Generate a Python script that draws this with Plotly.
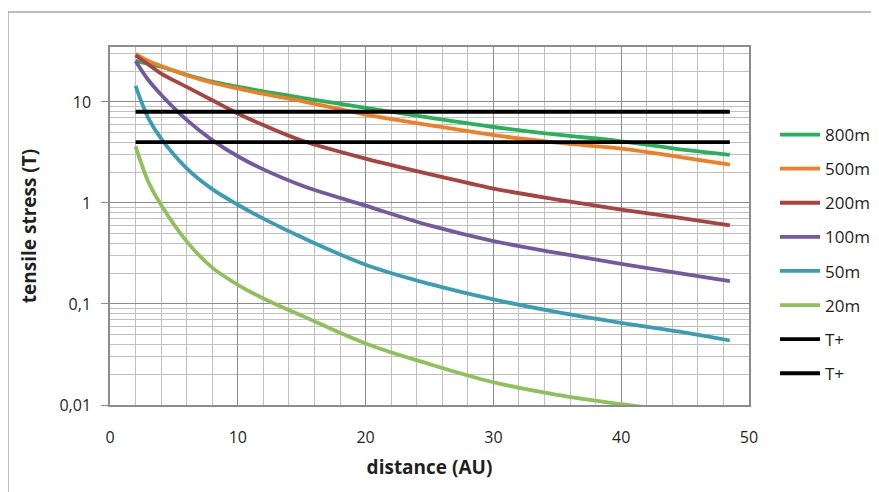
import plotly.graph_objects as go

# ---- data ----
distance = [2, 3, 4, 6, 8, 10, 12, 15, 20, 25, 30, 35, 40, 45, 48.5]

s800 = [25.5, 23.8, 22.3, 18.6, 15.9, 14.2, 12.7, 11.0, 8.75, 7.0, 5.65, 4.75, 4.08, 3.35, 3.0]
s500 = [30.0, 25.5, 22.7, 18.4, 15.5, 13.6, 12.0, 10.2, 7.5, 5.9, 4.7, 3.95, 3.45, 2.8, 2.4]
s200 = [29.0, 23.5, 19.1, 14.1, 10.4, 7.7, 5.9, 4.15, 2.75, 1.93, 1.39, 1.08, 0.86, 0.70, 0.60]
s100 = [25.5, 16.5, 11.8, 6.64, 4.19, 2.9, 2.15, 1.49, 0.94, 0.60, 0.42, 0.32, 0.25, 0.198, 0.168]
s50 = [14.4, 6.9, 4.33, 2.2, 1.37, 0.96, 0.70, 0.457, 0.245, 0.158, 0.111, 0.083, 0.065, 0.052, 0.0435]
s20 = [3.65, 1.62, 0.955, 0.417, 0.229, 0.155, 0.1135, 0.0767, 0.0407, 0.0254, 0.0168, 0.0126, 0.0102, 0.0085, 0.0076]

t_x = [2, 48.5]
t_upper = [8, 8]
t_lower = [4, 4]

series_names = ["800m", "500m", "200m", "100m", "50m", "20m"]
series_values = [s800, s500, s200, s100, s50, s20]
series_colors = ["#27b15b", "#f07e24", "#a8433f", "#7459a0", "#3a9db5", "#8fc15a"]

y_tickvals = [0.01, 0.1, 1, 10]
y_ticktext = ["0,01", "0,1", "1", "10"]
x_tickvals = [0, 10, 20, 30, 40, 50]

FONT = "Open Sans"
TEXT = "#1f1f1f"

fig = go.Figure()
for i, (name, vals, col) in enumerate(zip(series_names, series_values, series_colors)):
    fig.add_trace(go.Scatter(x=distance, y=vals, mode="lines", name=name,
                             line=dict(color=col, width=3.8, shape="spline"),
                             legendgroup=f"g{i}"))
fig.add_trace(go.Scatter(x=t_x, y=t_upper, mode="lines", name="T+",
                         line=dict(color="#000000", width=3.8), legendgroup="g6"))
fig.add_trace(go.Scatter(x=t_x, y=t_lower, mode="lines", name="T+",
                         line=dict(color="#000000", width=3.8), legendgroup="g7"))

# page offset (body margin) compensation
OFF = 8
W, H = 879, 492
PL, PR, PT, PB = 110, 749, 47, 405  # plot area in page pixels
L = PL - OFF
T = PT - OFF
R = W - (PR - OFF)
B = H - (PB - OFF)
pw = PR - PL
ph = PB - PT

def px(xp):  # page x -> paper
    return (xp - PL) / pw

def py(yp):  # page y -> paper
    return (PB - yp) / ph

fig.update_layout(
    width=W, height=H,
    template="none",
    paper_bgcolor="white", plot_bgcolor="white",
    margin=dict(l=L, r=R, t=T, b=B, pad=0),
    font=dict(family=FONT, size=16, color=TEXT),
    showlegend=True,
    legend=dict(x=px(775), y=py(117), xanchor="left", yanchor="top",
                font=dict(family=FONT, size=17, color=TEXT),
                tracegroupgap=9, bgcolor="rgba(0,0,0,0)", itemwidth=40),
    xaxis=dict(range=[0, 50], tickvals=x_tickvals, ticks="outside", ticklen=17,
               tickcolor="rgba(0,0,0,0)", showgrid=True, gridcolor="#8c8c8c", gridwidth=1,
               minor=dict(dtick=2, showgrid=True, gridcolor="#c0c0c0", gridwidth=1, ticks=""),
               showline=True, linecolor="#8c8c8c", linewidth=1.5, mirror=True,
               zeroline=False, automargin=False,
               tickfont=dict(family=FONT, size=16, color=TEXT),
               title=dict(text="<b>distance (AU)</b>", standoff=14,
                          font=dict(family=FONT, size=19, color=TEXT))),
    yaxis=dict(type="log", range=[-2, 1.544], tickmode="array", tickvals=y_tickvals,
               ticktext=y_ticktext, ticks="outside", ticklen=7, tickcolor="#8c8c8c",
               ticklabelstandoff=7,
               showgrid=True, gridcolor="#8c8c8c", gridwidth=1,
               minor=dict(dtick="D1", showgrid=True, gridcolor="#c0c0c0", gridwidth=1, ticks=""),
               showline=True, linecolor="#8c8c8c", linewidth=1.5, mirror=True,
               zeroline=False, automargin=False,
               tickfont=dict(family=FONT, size=16, color=TEXT),
               title=dict(text="<b>tensile stress (T)</b>", standoff=18,
                          font=dict(family=FONT, size=19, color=TEXT))),
    shapes=[
        dict(type="line", xref="paper", yref="paper", x0=px(8), x1=px(W + 20), y0=py(12), y1=py(12),
             line=dict(color="#a6a6a6", width=1.5)),
        dict(type="line", xref="paper", yref="paper", x0=px(8), x1=px(8), y0=py(12), y1=py(H + 20),
             line=dict(color="#a6a6a6", width=1.5)),
    ],
)

fig.write_html("out.html")
